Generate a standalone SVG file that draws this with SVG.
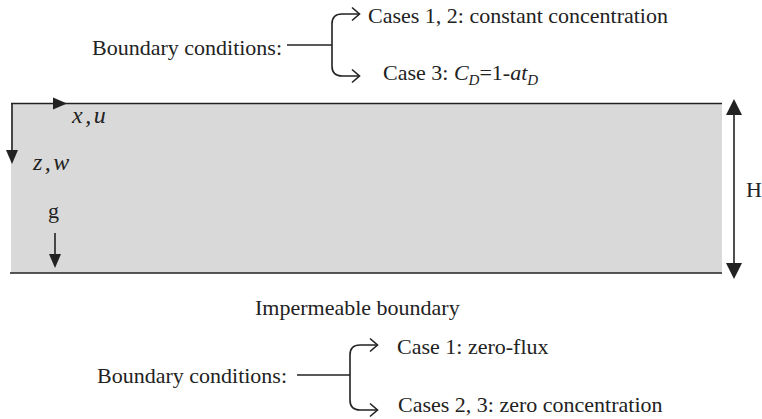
<svg xmlns="http://www.w3.org/2000/svg" width="762" height="419" viewBox="0 0 762 419">
<style>
.t{font-family:"Liberation Serif","Times New Roman",serif;font-size:22px;fill:#222}
.i{font-style:italic}
.v{font-size:24px;letter-spacing:2.5px}
.ln{stroke:#222;stroke-width:1.6;fill:none}
.ch{stroke:#222;stroke-width:1.6;fill:none;stroke-linejoin:miter}
.ah{fill:#222}
</style>
<rect width="762" height="419" fill="#fff"/>
<g id="domain">
<rect x="11" y="103" width="711" height="170" fill="#d9d9d9"/>
<line class="ln" x1="11" y1="103.5" x2="722" y2="103.5"/>
<line class="ln" x1="10" y1="273" x2="722" y2="273"/>
</g>
<g id="axes">
<line class="ln" x1="12" y1="103" x2="12" y2="152"/>
<polygon class="ah" points="6,150 18,150 12,164"/>
<polygon class="ah" points="53,97.5 53,109.5 67,103.5"/>
<text class="t i v" x="72" y="123">x,u</text>
<text class="t i v" x="33" y="170">z,w</text>
</g>
<g id="gravity">
<text class="t" x="48" y="218" font-size="24">g</text>
<line class="ln" x1="55" y1="233" x2="55" y2="256"/>
<polygon class="ah" points="49,254 61,254 55,268"/>
</g>
<g id="height">
<line class="ln" x1="734" y1="112" x2="734" y2="266"/>
<polygon class="ah" points="726,115 742,115 734,99"/>
<polygon class="ah" points="726,263 742,263 734,279"/>
<text class="t" x="746" y="197" font-size="19">H</text>
</g>
<g id="top-bc">
<text class="t" x="92" y="55">Boundary conditions:</text>
<text class="t" x="368" y="23">Cases 1, 2: constant concentration</text>
<text class="t" x="383" y="80">Case 3: <tspan class="i">C</tspan><tspan class="i" font-size="15" dy="5">D</tspan><tspan dy="-5">=1-</tspan><tspan class="i">at</tspan><tspan class="i" font-size="15" dy="5">D</tspan></text>
</g>
<g id="impermeable">
<text class="t" x="255" y="315">Impermeable boundary</text>
</g>
<g id="bottom-bc">
<text class="t" x="97" y="383">Boundary conditions:</text>
<text class="t" x="397" y="354">Case 1: zero-flux</text>
<text class="t" x="398" y="412">Cases 2, 3: zero concentration</text>
</g>
<g id="connectors">
<line class="ln" x1="287" y1="45" x2="332" y2="45"/>
<path class="ln" d="M359,14 H342 Q332,14 332,24 V66 Q332,76 342,76 H359"/>
<path class="ch" d="M352,7.5 L359.5,14 L352,20.5"/>
<path class="ch" d="M352,69.5 L359.5,76 L352,82.5"/>
<line class="ln" x1="297" y1="375" x2="350" y2="375"/>
<path class="ln" d="M377,345 H360 Q350,345 350,355 V400 Q350,410 360,410 H377"/>
<path class="ch" d="M370,338.5 L377.5,345 L370,351.5"/>
<path class="ch" d="M370,403.5 L377.5,410 L370,416.5"/>
</g>
</svg>
